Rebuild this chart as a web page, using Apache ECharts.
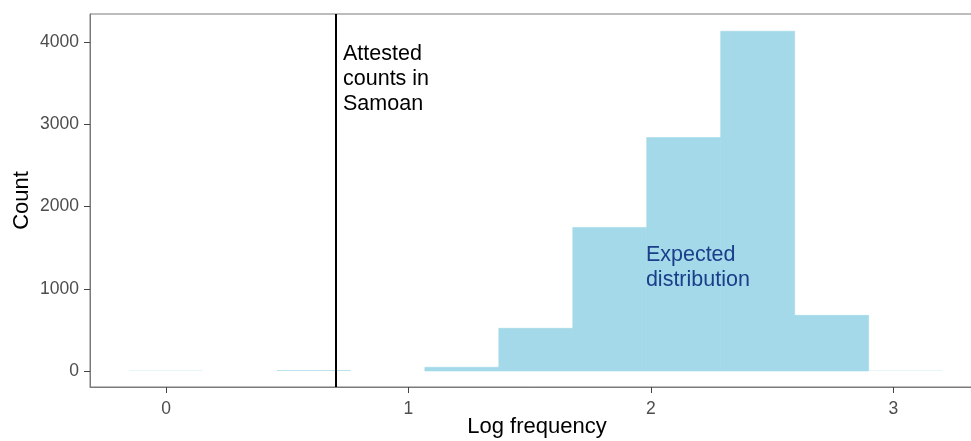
<!DOCTYPE html>
<html>
<head>
<meta charset="utf-8">
<script src="https://cdn.jsdelivr.net/npm/echarts@6/dist/echarts.min.js"></script>
<style>
  html, body { margin: 0; padding: 0; background: #fff; }
  #chart { width: 971px; height: 441px; }
</style>
</head>
<body>
<div id="chart"></div>
<script>
// histogram bins (log10 frequency), bin width ~0.305
const binStart = [-0.1525, 0.1525, 0.4575, 0.7625, 1.0675, 1.3725, 1.6775, 1.9825, 2.2875, 2.5925, 2.8975]
const binEnd   = [ 0.1525, 0.4575, 0.7625, 1.0675, 1.3725, 1.6775, 1.9825, 2.2875, 2.5925, 2.8975, 3.2025]
const counts   = [2, 0, 8, 0, 45, 519, 1747, 2841, 4135, 677, 2]

const xTicks = [0, 1, 2, 3]
const yTicks = [0, 1000, 2000, 3000, 4000]

const attestedLine = Math.log10(5)

const notes = [
  {text: 'Attested\ncounts in\nSamoan', x: 0.73, y: 4010, color: '#000000'},
  {text: 'Expected\ndistribution', x: 1.979, y: 1560, color: '#1a3e8a'}
]

const font = "'Liberation Sans', Arial, Helvetica, sans-serif"

var chartDom = document.getElementById('chart');
var myChart = echarts.init(chartDom);

var histData = counts.map((c, i) => [binStart[i], binEnd[i], c])

var option = {
  backgroundColor: '#ffffff',
  animation: false,
  grid: {
    left: 90,
    right: -13,
    top: 14,
    bottom: 54,
    containLabel: false,
    outerBoundsMode: 'none',
    show: true,
    borderColor: '#7a7a7a',
    borderWidth: 1
  },
  xAxis: {
    type: 'value',
    min: -0.3134,
    max: 3.3733,
    name: 'Log frequency',
    nameLocation: 'middle',
    nameGap: 29,
    nameMoveOverlap: false,
    nameTextStyle: {color: '#000', fontSize: 22, fontFamily: font},
    splitLine: {show: false},
    axisLine: {show: true, onZero: false, lineStyle: {color: '#7a7a7a', width: 1}},
    axisTick: {show: true, length: 6, lineStyle: {color: '#444'}, customValues: xTicks},
    axisLabel: {color: '#4d4d4d', fontSize: 17.5, fontFamily: font, margin: 13, customValues: xTicks,
      formatter: v => String(v)}
  },
  yAxis: {
    type: 'value',
    min: -195,
    max: 4345,
    name: 'Count',
    nameLocation: 'middle',
    nameGap: 57,
    nameMoveOverlap: false,
    nameTextStyle: {color: '#000', fontSize: 22, fontFamily: font},
    splitLine: {show: false},
    axisLine: {show: true, onZero: false, lineStyle: {color: '#7a7a7a', width: 1}},
    axisTick: {show: true, length: 6, lineStyle: {color: '#444'}, customValues: yTicks},
    axisLabel: {color: '#4d4d4d', fontSize: 17.5, fontFamily: font, margin: 11, customValues: yTicks,
      formatter: v => String(v)}
  },
  series: [
    {
      type: 'custom',
      data: histData,
      encode: {x: [0, 1], y: 2},
      renderItem: function (params, api) {
        var p0 = api.coord([api.value(0), 0])
        var p1 = api.coord([api.value(1), api.value(2)])
        return {
          type: 'rect',
          shape: {x: p0[0], y: p1[1], width: p1[0] - p0[0], height: p0[1] - p1[1]},
          style: {fill: '#a3d9e8', stroke: api.value(2) > 20 ? '#a3d9e8' : null, lineWidth: 0.6}
        }
      },
      markLine: {
        silent: true,
        symbol: 'none',
        label: {show: false},
        lineStyle: {color: '#000', width: 2, type: 'solid'},
        data: [{xAxis: attestedLine}]
      }
    }
  ]
};
option && myChart.setOption(option);

// text annotations placed in data space
myChart.setOption({
  graphic: notes.map(n => {
    var p = myChart.convertToPixel({gridIndex: 0}, [n.x, n.y])
    return {
      type: 'text',
      z: 100,
      x: p[0],
      y: p[1],
      style: {
        text: n.text,
        fill: n.color,
        font: '21.5px ' + font,
        lineHeight: 25,
        verticalAlign: 'top',
        align: 'left'
      }
    }
  })
})
</script>
</body>
</html>
